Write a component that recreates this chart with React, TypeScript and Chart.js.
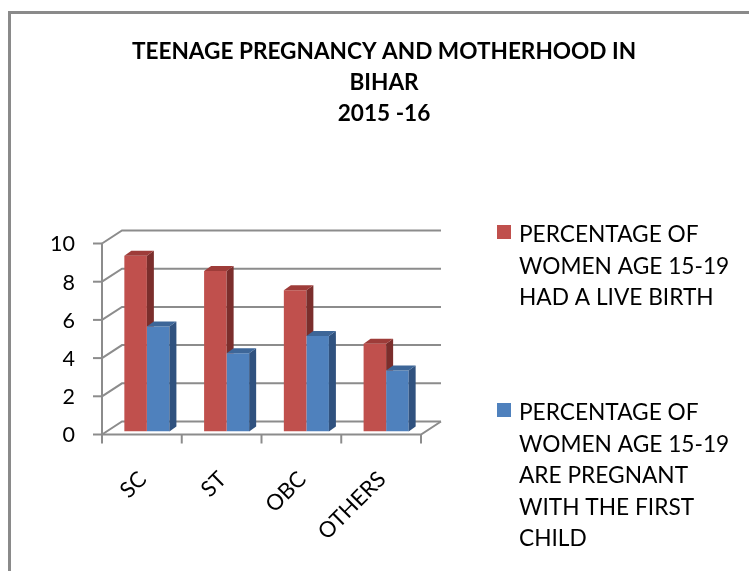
import React, { useEffect, useRef } from 'react';
import { Chart, registerables } from 'chart.js';

Chart.register(...registerables);

const categories = ['SC', 'ST', 'OBC', 'OTHERS'];
const liveBirth = [9.2, 8.4, 7.4, 4.6];
const pregnantFirst = [5.5, 4.1, 5.0, 3.2];
const yTicks = [0, 2, 4, 6, 8, 10];
const titleLines = ['TEENAGE PREGNANCY AND MOTHERHOOD IN', 'BIHAR', '2015 -16'];
const seriesLabels = [
  ['PERCENTAGE OF', 'WOMEN AGE 15-19', 'HAD A LIVE BIRTH'],
  ['PERCENTAGE OF', 'WOMEN AGE 15-19', 'ARE PREGNANT', 'WITH THE FIRST', 'CHILD'],
];

const frontColors = ['#C0504D', '#4F81BD'];
const sideColors = ['#7B2E2C', '#30527F'];
const topColors = ['#9E3C39', '#3D6698'];

const FRONT = { dx: -5, dy: 3 };
const BACK = { dx: 15, dy: -10 };
const BAR_DEPTH = { dx: 7, dy: -5 };
const FONT = 'Lato, "Open Sans", sans-serif';

const excel3d = {
  id: 'excel3d',
  beforeDraw(chart: any) {
    const { ctx, width, height } = chart;
    ctx.save();
    ctx.fillStyle = '#ffffff';
    ctx.fillRect(0, 0, width, height);
    ctx.strokeStyle = '#8a8a8a';
    ctx.lineWidth = 3;
    ctx.strokeRect(9.5, 12.5, width + 40, height + 40);

    // title
    ctx.fillStyle = '#000';
    ctx.font = 'bold 22.6px ' + FONT;
    ctx.textAlign = 'center';
    ctx.textBaseline = 'middle';
    titleLines.forEach((t, i) => ctx.fillText(t, 384, 52 + i * 31));

    // legend
    ctx.font = '22.7px ' + FONT;
    ctx.textAlign = 'left';
    const itemTops = [235, 413];
    seriesLabels.forEach((lines, s) => {
      const y0 = itemTops[s];
      ctx.fillStyle = frontColors[s];
      ctx.fillRect(497, y0 - 10, 14, 14);
      ctx.fillStyle = '#000';
      lines.forEach((ln, j) => ctx.fillText(ln, 519, y0 + j * 31.5));
    });
    ctx.restore();
  },
  beforeDatasetsDraw(chart: any) {
    const { ctx } = chart;
    const xs = chart.scales.x;
    const ys = chart.scales.y;
    const left = xs.left;
    const right = xs.right;
    ctx.save();
    ctx.strokeStyle = '#8c8c8c';
    ctx.lineWidth = 2;
    ctx.lineCap = 'butt';
    const fx = left + FRONT.dx;
    yTicks.forEach((t) => {
      const py = ys.getPixelForValue(t);
      const fy = py + FRONT.dy;
      const by = py + BACK.dy;
      ctx.beginPath();
      ctx.moveTo(fx - 9, fy);
      ctx.lineTo(fx, fy);
      ctx.stroke();
      ctx.beginPath();
      ctx.moveTo(fx, fy);
      ctx.lineTo(left + BACK.dx, by);
      ctx.lineTo(right + BACK.dx, by);
      ctx.stroke();
    });
    const y0 = ys.getPixelForValue(yTicks[0]);
    const yMax = ys.getPixelForValue(yTicks[yTicks.length - 1]);
    // front vertical axis
    ctx.beginPath();
    ctx.moveTo(fx, yMax + FRONT.dy);
    ctx.lineTo(fx, y0 + FRONT.dy);
    ctx.stroke();
    // floor
    ctx.beginPath();
    ctx.moveTo(fx, y0 + FRONT.dy);
    ctx.lineTo(right + FRONT.dx, y0 + FRONT.dy);
    ctx.lineTo(right + BACK.dx, y0 + BACK.dy);
    ctx.stroke();
    // category ticks
    for (let i = 0; i <= categories.length; i++) {
      const px = xs.getPixelForValue(i - 0.5) + FRONT.dx;
      ctx.beginPath();
      ctx.moveTo(px, y0 + FRONT.dy);
      ctx.lineTo(px, y0 + FRONT.dy + 9);
      ctx.stroke();
    }
    // y labels
    ctx.fillStyle = '#000';
    ctx.font = '21.5px ' + FONT;
    ctx.textAlign = 'right';
    ctx.textBaseline = 'middle';
    yTicks.forEach((t) => {
      ctx.fillText(String(t), fx - 27, ys.getPixelForValue(t) + FRONT.dy + 1);
    });
    // x labels
    ctx.font = '22px ' + FONT;
    ctx.textAlign = 'right';
    categories.forEach((c, i) => {
      const cx = xs.getPixelForValue(i) + FRONT.dx;
      ctx.save();
      ctx.translate(cx + 1, y0 + FRONT.dy + 41);
      ctx.rotate(-Math.PI / 4);
      ctx.fillText(c, 0, 0);
      ctx.restore();
    });
    ctx.restore();
  },
  afterDatasetsDraw(chart: any) {
    const { ctx } = chart;
    const n = chart.data.datasets.length;
    const metas = [];
    for (let d = 0; d < n; d++) metas.push(chart.getDatasetMeta(d));
    categories.forEach((_, i) => {
      for (let d = 0; d < n; d++) {
        const el = metas[d].data[i];
        const l = el.x - el.width / 2;
        const r = el.x + el.width / 2;
        const top = el.y;
        const base = el.base;
        ctx.save();
        if (d < n - 1) {
          const next = metas[d + 1].data[i];
          ctx.beginPath();
          ctx.rect(0, 0, chart.width, next.y);
          ctx.clip();
        }
        // side face
        ctx.fillStyle = sideColors[d];
        ctx.beginPath();
        ctx.moveTo(r, top);
        ctx.lineTo(r + BAR_DEPTH.dx, top + BAR_DEPTH.dy);
        ctx.lineTo(r + BAR_DEPTH.dx, base + BAR_DEPTH.dy);
        ctx.lineTo(r, base);
        ctx.closePath();
        ctx.fill();
        ctx.restore();
        // top face
        ctx.save();
        ctx.fillStyle = topColors[d];
        ctx.beginPath();
        ctx.moveTo(l, top);
        ctx.lineTo(l + BAR_DEPTH.dx, top + BAR_DEPTH.dy);
        ctx.lineTo(r + BAR_DEPTH.dx, top + BAR_DEPTH.dy);
        ctx.lineTo(r, top);
        ctx.closePath();
        ctx.fill();
        ctx.restore();
      }
    });
  },
};

export default function App() {
  const ref = useRef<HTMLCanvasElement>(null);
  useEffect(() => {
    if (!ref.current) return;
    const chart = new Chart(ref.current, {
      type: 'bar',
      data: {
        labels: categories,
        datasets: [
          {
            label: seriesLabels[0].join(' '),
            data: liveBirth,
            backgroundColor: frontColors[0],
            borderWidth: 0,
            categoryPercentage: 0.565,
            barPercentage: 1,
          },
          {
            label: seriesLabels[1].join(' '),
            data: pregnantFirst,
            backgroundColor: frontColors[1],
            borderWidth: 0,
            categoryPercentage: 0.565,
            barPercentage: 1,
          },
        ],
      },
      options: {
        responsive: false,
        animation: false,
        events: [],
        layout: { padding: { left: 107, right: 323, top: 240.5, bottom: 139.5 } },
        plugins: {
          legend: { display: false },
          title: { display: false },
          tooltip: { enabled: false },
        },
        scales: {
          x: { display: false },
          y: { display: false, min: 0, max: 10 },
        },
      },
      plugins: [excel3d],
    });
    return () => chart.destroy();
  }, []);
  return (
    <div style={{ position: 'fixed', left: 0, top: 0, width: 749, height: 571 }}>
      <canvas ref={ref} width={749} height={571} style={{ display: 'block' }} />
    </div>
  );
}
